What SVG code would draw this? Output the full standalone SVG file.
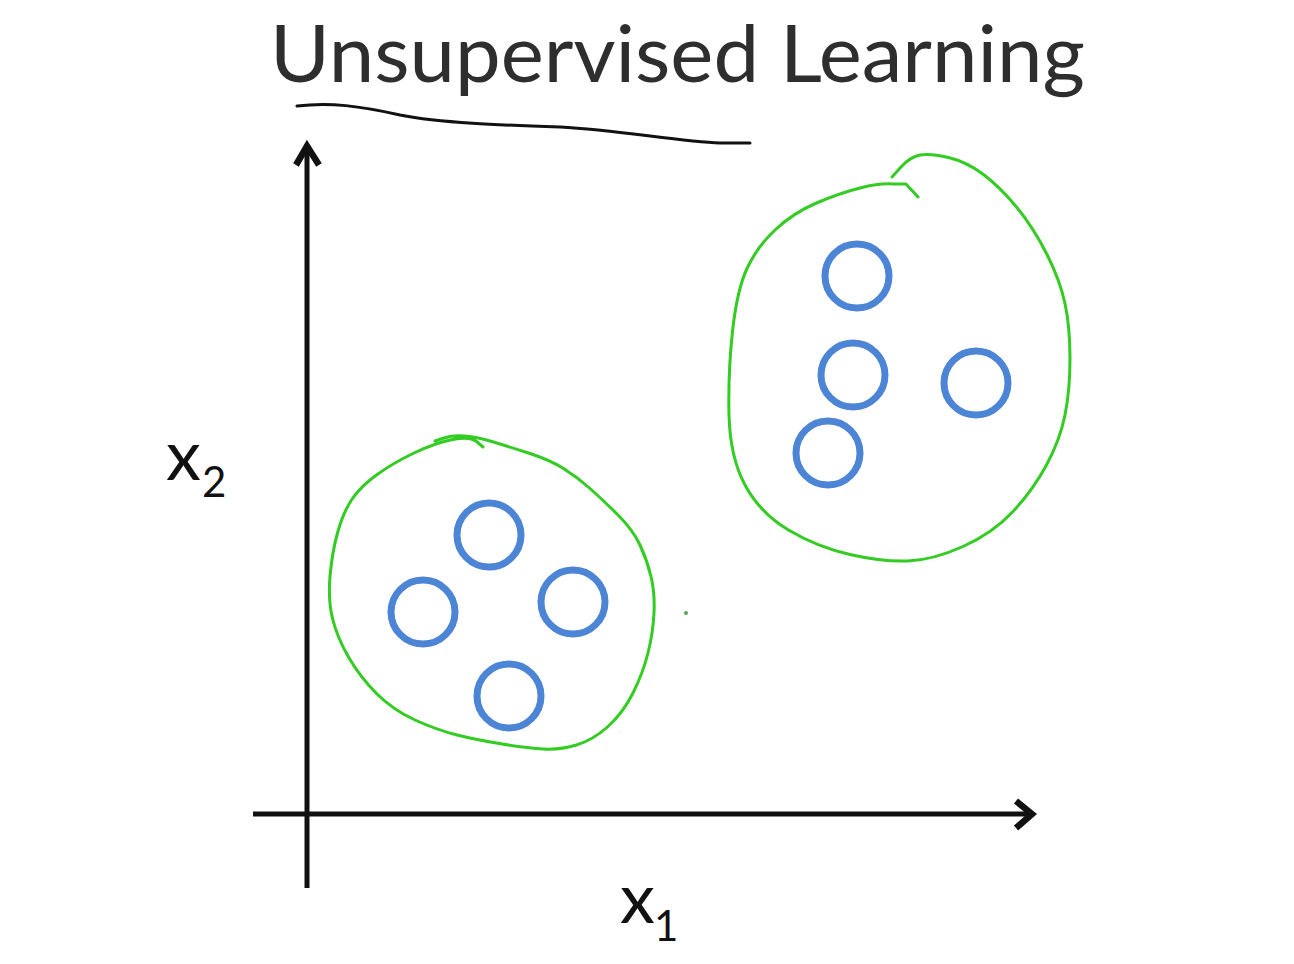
<svg xmlns="http://www.w3.org/2000/svg" width="1294" height="964" viewBox="0 0 1294 964">
<style>
.pt{fill:none;stroke:#4c84d6;stroke-width:7}
.blob{fill:none;stroke:#33cc22;stroke-width:3;stroke-linecap:round;stroke-linejoin:round}
.axis{fill:none;stroke:#111;stroke-width:5;stroke-linecap:butt;stroke-linejoin:miter}
.head{fill:none;stroke:#111;stroke-width:6.5;stroke-linecap:butt;stroke-linejoin:miter}
.lbl{font-family:Lato,"Open Sans","Liberation Sans",sans-serif;fill:#111}
</style>
<rect width="1294" height="964" fill="#fff"/>
<g id="title">
<text x="270" y="82" class="lbl" font-size="80" style="fill:#2e2e2e" textLength="815" lengthAdjust="spacingAndGlyphs">Unsupervised Learning</text>
<path d="M297,106 C330,102 360,106 400,115 C440,123 500,125 560,127 C620,130 680,142 720,143 L750,143" fill="none" stroke="#111" stroke-width="3" stroke-linecap="round"/>
</g>
<g id="connectors">
<path class="axis" d="M307,888 V147"/>
<path class="head" d="M296,165 L307,146 L319,165"/>
<path class="axis" d="M253,814 H1030"/>
<path class="head" d="M1016,801 L1032,814 L1016,828"/>
</g>
<g id="label-x2">
<text x="166" y="480" class="lbl" font-size="70">x</text>
<text x="202" y="497" class="lbl" font-size="42">2</text>
</g>
<g id="label-x1">
<text x="620" y="923" class="lbl" font-size="70">x</text>
<text x="654" y="941" class="lbl" font-size="42">1</text>
</g>
<g id="cluster-right">
<path class="blob" d="M892,177 L901,167 Q910,157 920,155 Q930,153 948.5,157.5 Q967,162 983.5,174.5 Q1000,187 1016.5,207 Q1033,227 1046.5,253.5 Q1060,280 1065,303.5 Q1070,327 1070,358.5 Q1070,390 1065,415 Q1060,440 1046.5,465 Q1033,490 1013,511.5 Q993,533 963,546.5 Q933,560 908,561 Q883,562 850,554.5 Q817,547 788.5,530 Q760,513 745,485 Q730,457 729,415 Q728,373 732.5,331.5 Q737,290 747,268.5 Q757,247 775,230 Q793,213 816.5,203 Q840,193 860,188 Q880,183 893.5,184 L906,184 L918,197"/>
<circle class="pt" cx="857" cy="276" r="32"/>
<circle class="pt" cx="853" cy="375" r="32"/>
<circle class="pt" cx="976" cy="383" r="32"/>
<circle class="pt" cx="828" cy="453" r="32"/>
</g>
<g id="cluster-left">
<path class="blob" d="M435,441 L444,438 Q453,435 465,436 Q477,437 493.5,442 Q510,447 530,453.5 Q550,460 563.5,468.5 Q577,477 590,488.5 Q603,500 618,515 Q633,530 640,545 Q647,560 651,576.5 Q655,593 654,613 Q653,633 648,653 Q643,673 633,693 Q623,713 608,726.5 Q593,740 576.5,745 Q560,750 543.5,749 Q527,748 502,744 Q477,740 457,735 Q437,730 415,720 Q393,710 376.5,693.5 Q360,677 348.5,657 Q337,637 332.5,618.5 Q328,600 330,576.5 Q332,553 337.5,533 Q343,513 351.5,500 Q360,487 376.5,475 Q393,463 414,453 Q435,443 452.5,439.5 Q470,436 476.5,441.5 L483,447"/>
<circle class="pt" cx="489" cy="535" r="32"/>
<circle class="pt" cx="423" cy="612" r="32"/>
<circle class="pt" cx="573" cy="602" r="32"/>
<circle class="pt" cx="509" cy="696" r="32"/>
</g>
<g id="stray-dot">
<circle cx="686" cy="613" r="2" fill="#55aa55"/>
</g>
</svg>
